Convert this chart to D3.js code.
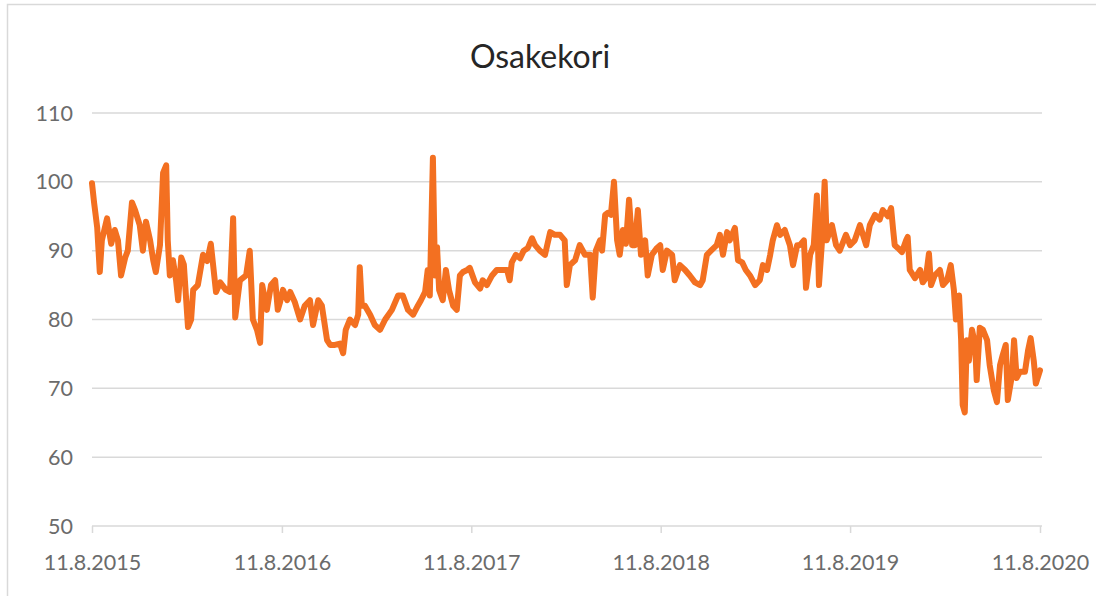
<!DOCTYPE html>
<html lang="fi">
<head>
    <meta charset="UTF-8">
    <title>Osakekori</title>
    <script src="https://d3js.org/d3.v7.min.js"></script>
    <style>
        body { margin: 0; background: #fff; }
        svg { display: block; font-family: Lato, "Open Sans", sans-serif; }
    </style>
</head>
<body>
    <svg width="1096" height="596"></svg>

    <script>
        // Chart data
        const title = "Osakekori";
        const yTicks = [50, 60, 70, 80, 90, 100, 110];
        const xTickLabels = ["11.8.2015", "11.8.2016", "11.8.2017", "11.8.2018", "11.8.2019", "11.8.2020"];

        const dates = [
            "11.8.2015", "15.8.2015", "21.8.2015", "26.8.2015", "30.8.2015", "9.9.2015", "17.9.2015", "24.9.2015",
            "30.9.2015", "6.10.2015", "14.10.2015", "19.10.2015", "27.10.2015", "2.11.2015", "11.11.2015", "17.11.2015",
            "23.11.2015", "1.12.2015", "7.12.2015", "12.12.2015", "20.12.2015", "26.12.2015", "1.1.2016", "4.1.2016",
            "8.1.2016", "14.1.2016", "20.1.2016", "24.1.2016", "30.1.2016", "4.2.2016", "12.2.2016", "18.2.2016",
            "22.2.2016", "2.3.2016", "12.3.2016", "20.3.2016", "27.3.2016", "6.4.2016", "14.4.2016", "25.4.2016",
            "3.5.2016", "9.5.2016", "13.5.2016", "22.5.2016", "3.6.2016", "10.6.2016", "16.6.2016", "24.6.2016",
            "30.6.2016", "4.7.2016", "13.7.2016", "21.7.2016", "29.7.2016", "3.8.2016", "7.8.2016", "13.8.2016",
            "21.8.2016", "27.8.2016", "5.9.2016", "15.9.2016", "24.9.2016", "4.10.2016", "10.10.2016", "20.10.2016",
            "27.10.2016", "6.11.2016", "12.11.2016", "21.11.2016", "1.12.2016", "7.12.2016", "12.12.2016", "20.12.2016",
            "30.12.2016", "5.1.2017", "8.1.2017", "12.1.2017", "18.1.2017", "28.1.2017", "6.2.2017", "16.2.2017",
            "26.2.2017", "11.3.2017", "23.3.2017", "1.4.2017", "11.4.2017", "21.4.2017", "30.4.2017", "6.5.2017",
            "14.5.2017", "19.5.2017", "23.5.2017", "29.5.2017", "2.6.2017", "6.6.2017", "10.6.2017", "17.6.2017",
            "23.6.2017", "29.6.2017", "7.7.2017", "14.7.2017", "20.7.2017", "26.7.2017", "3.8.2017", "8.8.2017",
            "18.8.2017", "28.8.2017", "2.9.2017", "10.9.2017", "20.9.2017", "29.9.2017", "11.10.2017", "19.10.2017",
            "24.10.2017", "28.10.2017", "5.11.2017", "13.11.2017", "20.11.2017", "28.11.2017", "6.12.2017", "12.12.2017",
            "21.12.2017", "31.12.2017", "10.1.2018", "19.1.2018", "29.1.2018", "7.2.2018", "11.2.2018", "17.2.2018",
            "27.2.2018", "8.3.2018", "18.3.2018", "28.3.2018", "2.4.2018", "8.4.2018", "16.4.2018", "20.4.2018",
            "26.4.2018", "1.5.2018", "7.5.2018", "13.5.2018", "19.5.2018", "24.5.2018", "30.5.2018", "5.6.2018",
            "11.6.2018", "17.6.2018", "22.6.2018", "28.6.2018", "4.7.2018", "12.7.2018", "17.7.2018", "25.7.2018",
            "4.8.2018", "10.8.2018", "15.8.2018", "23.8.2018", "2.9.2018", "7.9.2018", "17.9.2018", "27.9.2018",
            "6.10.2018", "16.10.2018", "26.10.2018", "31.10.2018", "8.11.2018", "16.11.2018", "27.11.2018", "3.12.2018",
            "9.12.2018", "17.12.2018", "22.12.2018", "1.1.2019", "7.1.2019", "15.1.2019", "22.1.2019", "30.1.2019",
            "9.2.2019", "18.2.2019", "24.2.2019", "4.3.2019", "10.3.2019", "15.3.2019", "23.3.2019", "29.3.2019",
            "7.4.2019", "17.4.2019", "23.4.2019", "1.5.2019", "6.5.2019", "14.5.2019", "18.5.2019", "26.5.2019",
            "2.6.2019", "8.6.2019", "12.6.2019", "18.6.2019", "23.6.2019", "27.6.2019", "7.7.2019", "15.7.2019",
            "22.7.2019", "3.8.2019", "11.8.2019", "20.8.2019", "30.8.2019", "11.9.2019", "18.9.2019", "28.9.2019",
            "7.10.2019", "13.10.2019", "23.10.2019", "29.10.2019", "2.11.2019", "5.11.2019", "11.11.2019", "19.11.2019",
            "27.11.2019", "30.11.2019", "4.12.2019", "14.12.2019", "24.12.2019", "29.12.2019", "4.1.2020", "10.1.2020",
            "14.1.2020", "21.1.2020", "31.1.2020", "6.2.2020", "14.2.2020", "21.2.2020", "27.2.2020", "2.3.2020",
            "8.3.2020", "12.3.2020", "15.3.2020", "19.3.2020", "23.3.2020", "27.3.2020", "2.4.2020", "8.4.2020",
            "11.4.2020", "17.4.2020", "23.4.2020", "1.5.2020", "6.5.2020", "14.5.2020", "20.5.2020", "26.5.2020",
            "31.5.2020", "6.6.2020", "10.6.2020", "18.6.2020", "22.6.2020", "27.6.2020", "3.7.2020", "13.7.2020",
            "19.7.2020", "24.7.2020", "30.7.2020", "3.8.2020", "11.8.2020"
        ];

        const values = [
            99.8, 97.0, 93.4, 86.9, 91.5, 94.7, 91.0, 93.0,
            91.5, 86.4, 89.0, 90.0, 97.0, 95.9, 93.7, 90.0,
            94.2, 91.5, 88.6, 86.9, 90.8, 101.3, 102.4, 91.5,
            86.4, 88.6, 85.7, 82.8, 89.0, 88.0, 78.9, 80.0,
            84.3, 85.0, 89.4, 88.5, 91.0, 84.0, 85.4, 84.3,
            84.0, 94.7, 80.3, 85.7, 86.4, 90.0, 80.0, 78.5,
            76.6, 85.0, 81.4, 85.0, 85.7, 81.4, 82.4, 84.3,
            82.8, 84.0, 82.5, 80.0, 82.0, 82.8, 79.2, 82.8,
            82.0, 77.0, 76.3, 76.3, 76.5, 75.1, 78.5, 80.0,
            79.2, 80.7, 87.6, 82.0, 82.0, 80.7, 79.2, 78.5,
            80.0, 81.4, 83.5, 83.5, 81.4, 80.7, 82.0, 82.8,
            84.0, 87.2, 83.5, 103.5, 86.4, 90.5, 84.3, 82.8,
            87.2, 84.3, 82.0, 81.4, 86.4, 86.9, 87.2, 87.5,
            85.4, 84.5, 85.7, 85.0, 86.4, 87.2, 87.2, 87.2,
            85.7, 88.3, 89.4, 88.9, 90.0, 90.4, 91.8, 90.8,
            90.0, 89.4, 92.7, 92.3, 92.3, 91.5, 85.0, 87.9,
            88.6, 90.8, 89.4, 89.4, 83.2, 90.0, 91.5, 90.0,
            95.2, 95.5, 95.2, 100.0, 91.5, 89.4, 93.0, 91.0,
            97.4, 90.8, 90.8, 95.9, 89.4, 91.5, 86.4, 89.4,
            90.4, 90.8, 87.2, 90.0, 89.4, 85.7, 87.9, 87.2,
            86.4, 85.4, 85.0, 85.7, 89.4, 90.0, 90.8, 92.3,
            89.4, 92.7, 91.5, 93.3, 88.6, 88.3, 87.2, 86.4,
            85.0, 85.7, 87.9, 87.2, 89.4, 91.5, 93.7, 92.3,
            93.0, 90.8, 87.9, 90.8, 90.8, 91.5, 84.6, 89.4,
            90.8, 98.0, 85.0, 91.5, 100.0, 91.5, 93.7, 90.8,
            90.0, 92.3, 90.8, 91.5, 93.7, 90.8, 93.7, 95.2,
            94.5, 95.9, 95.0, 96.2, 93.0, 90.8, 90.4, 89.8,
            91.5, 92.0, 87.2, 86.0, 87.2, 85.4, 86.0, 89.6,
            85.0, 86.4, 87.2, 85.0, 85.7, 87.9, 84.3, 80.0,
            83.5, 77.0, 67.6, 66.5, 77.0, 74.0, 78.5, 76.3,
            71.2, 78.8, 78.5, 77.0, 73.4, 69.7, 68.0, 73.4,
            74.8, 76.3, 68.3, 71.9, 77.0, 71.5, 72.4, 72.4,
            75.5, 77.3, 74.0, 70.7, 72.6
        ];

        const parseDate = d3.timeParse("%d.%m.%Y");
        const series = dates.map((d, i) => ({ date: parseDate(d), value: values[i] }));

        const svg = d3.select("svg");
        const width = 1096;
        const height = 596;

        // Plot area
        const margin = { left: 92, right: 56, top: 113, bottom: 70 };

        // Outer frame (right and bottom edges run off the window)
        svg.append("rect")
            .attr("x", 7.5)
            .attr("y", 4.5)
            .attr("width", width + 20)
            .attr("height", height + 20)
            .attr("fill", "none")
            .attr("stroke", "#d9d9d9")
            .attr("stroke-width", 1.5);

        const x = d3.scaleTime()
            .domain([parseDate(xTickLabels[0]), parseDate(xTickLabels[xTickLabels.length - 1])])
            .range([margin.left, width - margin.right]);

        const y = d3.scaleLinear()
            .domain([50, 110])
            .range([height - margin.bottom, margin.top]);

        // Horizontal grid lines
        svg.append("g")
            .selectAll("line")
            .data(yTicks)
            .join("line")
            .attr("x1", x.range()[0])
            .attr("x2", x.range()[1] + 2)
            .attr("y1", d => y(d))
            .attr("y2", d => y(d))
            .attr("stroke", "#d9d9d9")
            .attr("stroke-width", 1.5);

        // Y axis labels
        svg.append("g")
            .selectAll("text")
            .data(yTicks)
            .join("text")
            .attr("x", 73)
            .attr("y", d => y(d))
            .attr("dy", "0.35em")
            .attr("text-anchor", "end")
            .attr("fill", "#6b6b6b")
            .attr("font-size", 21.5)
            .text(d => d);

        // X axis with tick marks under the baseline
        const xAxis = d3.axisBottom(x)
            .tickValues(xTickLabels.map(parseDate))
            .tickFormat(d3.timeFormat("%-d.%-m.%Y"))
            .tickSize(7)
            .tickSizeOuter(0)
            .tickPadding(22);

        const gx = svg.append("g")
            .attr("transform", `translate(0,${y(50)})`)
            .call(xAxis);

        gx.select(".domain").remove();
        gx.selectAll(".tick line")
            .attr("stroke", "#d9d9d9")
            .attr("stroke-width", 1.5);
        gx.selectAll(".tick text")
            .attr("fill", "#6b6b6b")
            .attr("font-size", 21.5)
            .attr("font-family", "Lato, 'Open Sans', sans-serif");

        // Orange line
        const line = d3.line()
            .x(d => x(d.date))
            .y(d => y(d.value));

        svg.append("path")
            .datum(series)
            .attr("d", line)
            .attr("fill", "none")
            .attr("stroke", "#f37021")
            .attr("stroke-width", 6)
            .attr("stroke-linejoin", "round")
            .attr("stroke-linecap", "round");

        // Title
        svg.append("text")
            .attr("x", 540)
            .attr("y", 68)
            .attr("text-anchor", "middle")
            .attr("fill", "#262626")
            .attr("font-size", 32)
            .text(title);
    </script>
</body>
</html>
